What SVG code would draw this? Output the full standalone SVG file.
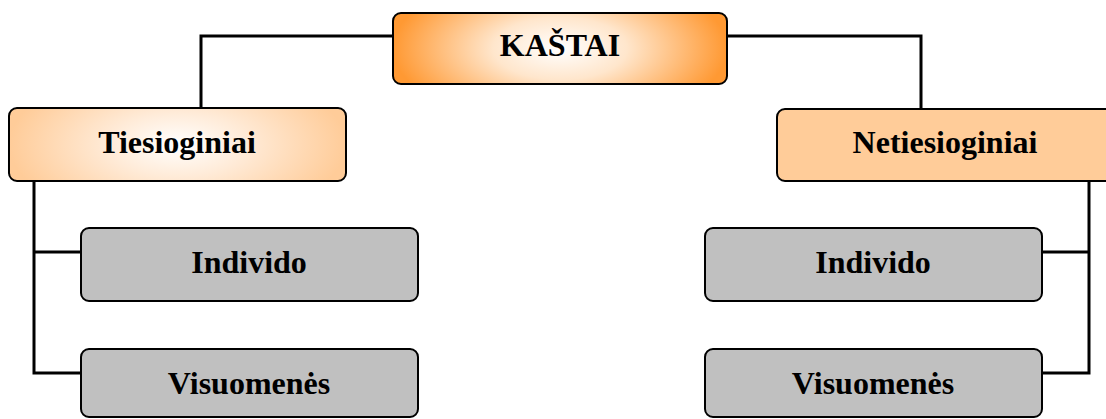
<svg xmlns="http://www.w3.org/2000/svg" width="1106" height="419" viewBox="0 0 1106 419">
<defs>
<radialGradient id="gOrange" cx="0.5" cy="0.5" r="0.5" gradientTransform="translate(0.5 0.5) scale(1 2.2) translate(-0.5 -0.5)">
<stop offset="0" stop-color="#FFFFFF"/>
<stop offset="0.4" stop-color="#FFE6CC"/>
<stop offset="1" stop-color="#FF9933"/>
</radialGradient>
<radialGradient id="gPeach" cx="0.5" cy="0.5" r="0.5" gradientTransform="translate(0.5 0.5) scale(1 2.2) translate(-0.5 -0.5)">
<stop offset="0" stop-color="#FFFFFF"/>
<stop offset="0.4" stop-color="#FFEBD8"/>
<stop offset="1" stop-color="#FFCC99"/>
</radialGradient>
</defs>
<style>
.box{stroke:#000;stroke-width:2}
.gray{fill:#C0C0C0}
.lbl{font-family:"Liberation Serif","Times New Roman",serif;font-weight:bold;font-size:32px;fill:#000;text-anchor:middle}
.conn{fill:none;stroke:#000;stroke-width:3}
</style>
<rect width="1106" height="419" fill="#FFFFFF"/>
<g id="connectors">
<polyline class="conn" points="393,36 201,36 201,108"/>
<polyline class="conn" points="727,36 921,36 921,109"/>
<polyline class="conn" points="34,181 34,373 81,373"/>
<line class="conn" x1="34" y1="252" x2="81" y2="252"/>
<polyline class="conn" points="1089,181 1089,373 1042,373"/>
<line class="conn" x1="1089" y1="252" x2="1042" y2="252"/>
</g>
<g id="kastai">
<rect class="box" x="393" y="13" width="334" height="71" rx="8" fill="url(#gOrange)"/>
<text class="lbl" x="560" y="56">KAŠTAI</text>
</g>
<g id="tiesioginiai">
<rect class="box" x="9" y="108" width="337" height="73" rx="8" fill="url(#gPeach)"/>
<text class="lbl" x="177" y="153">Tiesioginiai</text>
</g>
<g id="netiesioginiai">
<rect class="box" x="777" y="109" width="340" height="72" rx="8" fill="#FFCC99"/>
<text class="lbl" x="945" y="153">Netiesioginiai</text>
</g>
<g id="individo-left">
<rect class="box gray" x="81" y="228" width="337" height="73" rx="8"/>
<text class="lbl" x="249" y="273">Individo</text>
</g>
<g id="visuomenes-left">
<rect class="box gray" x="81" y="349" width="337" height="68" rx="8"/>
<text class="lbl" x="249" y="394">Visuomenės</text>
</g>
<g id="individo-right">
<rect class="box gray" x="705" y="228" width="337" height="73" rx="8"/>
<text class="lbl" x="873" y="273">Individo</text>
</g>
<g id="visuomenes-right">
<rect class="box gray" x="705" y="349" width="337" height="68" rx="8"/>
<text class="lbl" x="873" y="394">Visuomenės</text>
</g>
</svg>
